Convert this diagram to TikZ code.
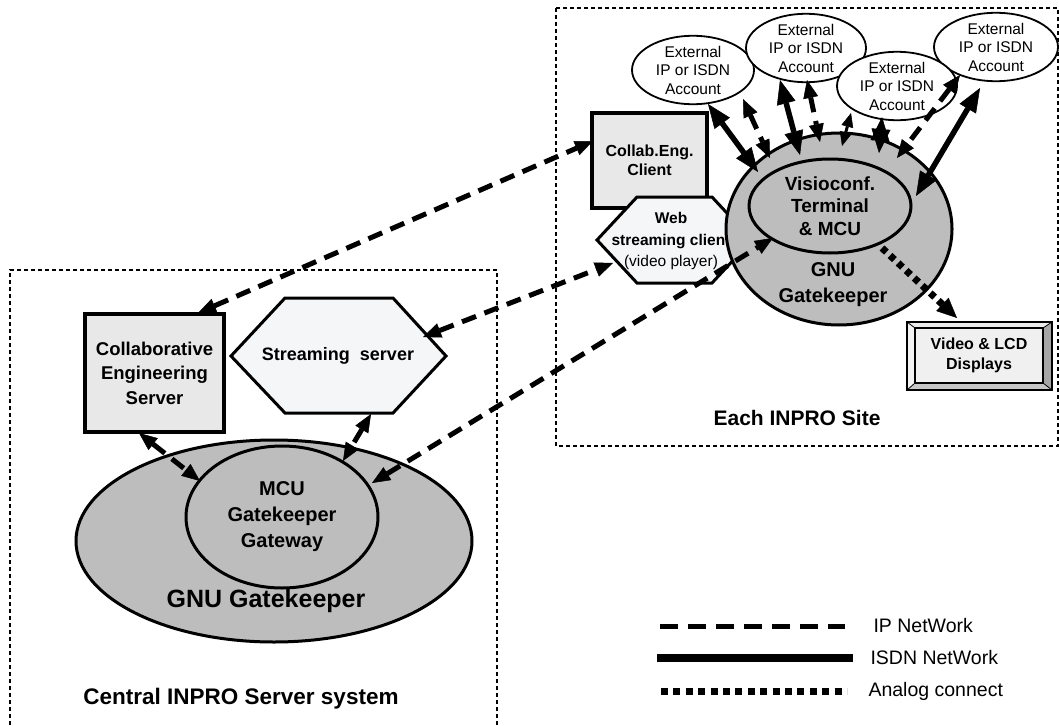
\documentclass[tikz,border=0pt]{standalone}
\usepackage{fontspec}
\setmainfont{Liberation Sans}
\usetikzlibrary{arrows.meta,shapes.geometric}
\definecolor{ringgray}{HTML}{BDBDBD}
\definecolor{boxfill}{HTML}{E8E8E8}
\definecolor{hexfill}{HTML}{F5F6F8}
\newcommand\fsz[2]{\fontsize{#1}{#2}\selectfont}
\tikzset{
  sitebox/.style={line width=1.2pt, dash pattern=on 4pt off 3pt},
  ipnet/.style={line width=5pt, dash pattern=on 15pt off 9pt,
     {Triangle[length=18pt,width=15pt,line width=0.5pt]}-{Triangle[length=18pt,width=15pt,line width=0.5pt]}},
  isdnnet/.style={line width=5.5pt,
     {Triangle[length=24pt,width=19pt,line width=0.5pt]}-{Triangle[length=24pt,width=19pt,line width=0.5pt]}},
  thinnet/.style={line width=3pt,
     {Triangle[length=14pt,width=12pt,line width=0.5pt]}-{Triangle[length=14pt,width=12pt,line width=0.5pt]}},
  analognet/.style={line width=7pt, dash pattern=on 6pt off 5pt,
     -{Triangle[length=20pt,width=18pt,line width=0.5pt]}},
  account/.style={draw, ellipse, line width=1.8pt, fill=white, inner sep=0pt,
     align=center, font=\fsz{15.5}{18.5}},
  ring/.style={draw, ellipse, line width=3pt, fill=ringgray, inner sep=0pt},
  lbl/.style={align=center, font=\fsz{20}{26}\bfseries},
  legtext/.style={anchor=west, font=\fsz{19.5}{22}},
}
\begin{document}
\begin{tikzpicture}[x=1pt,y=-1pt]
\useasboundingbox (0,0) rectangle (1059,725);
\fill[white] (0,0) rectangle (1059,725);

% site frames
\draw[sitebox] (10,725) -- (10,270) -- (497,270) -- (497,725);
\draw[sitebox] (556,8) rectangle (1058,446);

% ---------- central server system ----------
\node[draw, line width=3.5pt, fill=boxfill, minimum width=139pt, minimum height=118pt,
      align=center, font=\fsz{18.5}{24.5}\bfseries] (ces) at (154.5,373)
      {Collaborative\\Engineering\\Server};
\draw[line width=3pt, fill=hexfill] (231,356) -- (285,298) -- (393,298) -- (446,356)
      -- (393,413) -- (285,413) -- cycle;
\node[font=\fsz{18}{22}\bfseries] (ss) at (338,356) {Streaming\ \ server};
\node[ring, minimum width=396pt, minimum height=202pt] (gkl) at (274,541) {};
\node[ring, minimum width=192pt, minimum height=142pt, lbl] (mcu) at (282,517)
      {MCU\\Gatekeeper\\Gateway};
\node[font=\fsz{25}{30}\bfseries] (gnul) at (266,601) {GNU Gatekeeper};
\node[font=\fsz{22.5}{26}\bfseries] (central) at (241,699) {Central INPRO Server system};

% ---------- each INPRO site ----------
\node[draw, line width=3.5pt, fill=boxfill, minimum width=115pt, minimum height=95pt,
      align=center, font=\fsz{16}{19.5}\bfseries] (cec) at (649.5,160.5) {Collab.Eng.\\Client};
\draw[line width=3pt, fill=hexfill] (597,240) -- (637,197) -- (712,197) -- (752,240)
      -- (712,283) -- (637,283) -- cycle;
\node[align=center, font=\fsz{15.5}{21.5}] (wsc) at (671,241)
      {\bfseries Web\\\bfseries streaming client\\(video player)};
\node[ring, minimum width=226pt, minimum height=192pt] (gkr) at (839,229) {};
\node[ring, minimum width=162pt, minimum height=94pt, align=center,
      font=\fsz{19}{22.5}\bfseries] (vis) at (830,206) {Visioconf.\\Terminal\\\& MCU};
\node[lbl] (gnur) at (833,285) {GNU\\Gatekeeper};

\node[account, minimum width=122pt, minimum height=62pt] (e1) at (693,70) {External\\IP or ISDN\\Account};
\node[account, minimum width=120pt, minimum height=60pt] (e2) at (806,48) {External\\IP or ISDN\\Account};
\node[account, minimum width=124pt, minimum height=64pt] (e4) at (996,47) {External\\IP or ISDN\\Account};
\node[account, minimum width=120pt, minimum height=60pt] (e3) at (897,86) {External\\IP or ISDN\\Account};

% video & LCD displays (bevelled)
\fill[gray!15] (907,322) -- (1052,322) -- (1043,328) -- (915,328) -- cycle;
\fill[gray!10] (907,322) -- (915,328) -- (915,383) -- (907,390) -- cycle;
\fill[gray!70] (1052,322) -- (1052,390) -- (1043,383) -- (1043,328) -- cycle;
\fill[gray!45] (907,390) -- (915,383) -- (1043,383) -- (1052,390) -- cycle;
\draw[line width=0.8pt] (907,322) -- (915,328) (1052,322) -- (1043,328)
      (907,390) -- (915,383) (1052,390) -- (1043,383);
\node[draw, line width=1.5pt, fill=gray!12, minimum width=128pt, minimum height=55pt,
      align=center, font=\fsz{16}{20}\bfseries] (vid) at (979,355.5) {Video \& LCD\\Displays};
\draw[line width=2pt] (907,322) rectangle (1052,390);
\node[font=\fsz{21}{24}\bfseries] (site) at (797,418) {Each INPRO Site};

% ---------- connector end points ----------
\coordinate (cesT) at (198,313);
\coordinate (cesB) at (139,433);
\coordinate (cecL) at (593,141);
\coordinate (ssR) at (423,337);
\coordinate (ssB) at (371,414);
\coordinate (wscL) at (613,263);
\coordinate (mcuR) at (372,483);
\coordinate (mcuL) at (200,481);
\coordinate (mcuT) at (343,461);
\coordinate (visL) at (773,238);
\coordinate (a1) at (708,104) ; \coordinate (a2) at (758,172);
\coordinate (b1) at (743,99)  ; \coordinate (b2) at (770,158);
\coordinate (c1) at (780,80)  ; \coordinate (c2) at (800,155);
\coordinate (d1) at (807,80)  ; \coordinate (d2) at (820,142);
\coordinate (f1) at (851,113) ; \coordinate (f2) at (842,146);
\coordinate (g1) at (882,117) ; \coordinate (g2) at (879,153);
\coordinate (h1) at (960,75)  ; \coordinate (h2) at (897,158);
\coordinate (k1) at (980,88)  ; \coordinate (k2) at (916,196);
\coordinate (visB) at (882,248);
\coordinate (vidT) at (957,318);

% ---------- connectors ----------
\draw[ipnet] (cesT) -- (cecL);
\draw[ipnet] (ssR) -- (wscL);
\draw[ipnet] (mcuR) -- (visL);
\draw[ipnet] (cesB) -- (mcuL);
\draw[ipnet] (ssB) -- (mcuT);
\draw[isdnnet] (a1) -- (a2);
\draw[ipnet] (b1) -- (b2);
\draw[isdnnet] (c1) -- (c2);
\draw[ipnet] (d1) -- (d2);
\draw[thinnet] (f1) -- (f2);
\draw[isdnnet] (g1) -- (g2);
\draw[ipnet] (h1) -- (h2);
\draw[isdnnet] (k1) -- (k2);
\draw[analognet] (visB) -- (vidT);

% ---------- legend ----------
\draw[line width=5pt, dash pattern=on 18pt off 10pt] (660,626) -- (845,626);
\draw[line width=7.5pt] (657,658) -- (853,658);
\draw[line width=7pt, dash pattern=on 7pt off 5.4pt] (661,691) -- (847,691);
\node[legtext] (lip) at (870,626) {IP NetWork};
\node[legtext] (lisdn) at (867,658) {ISDN NetWork};
\node[legtext] (lan) at (865,691) {Analog connect};
\end{tikzpicture}
\end{document}
